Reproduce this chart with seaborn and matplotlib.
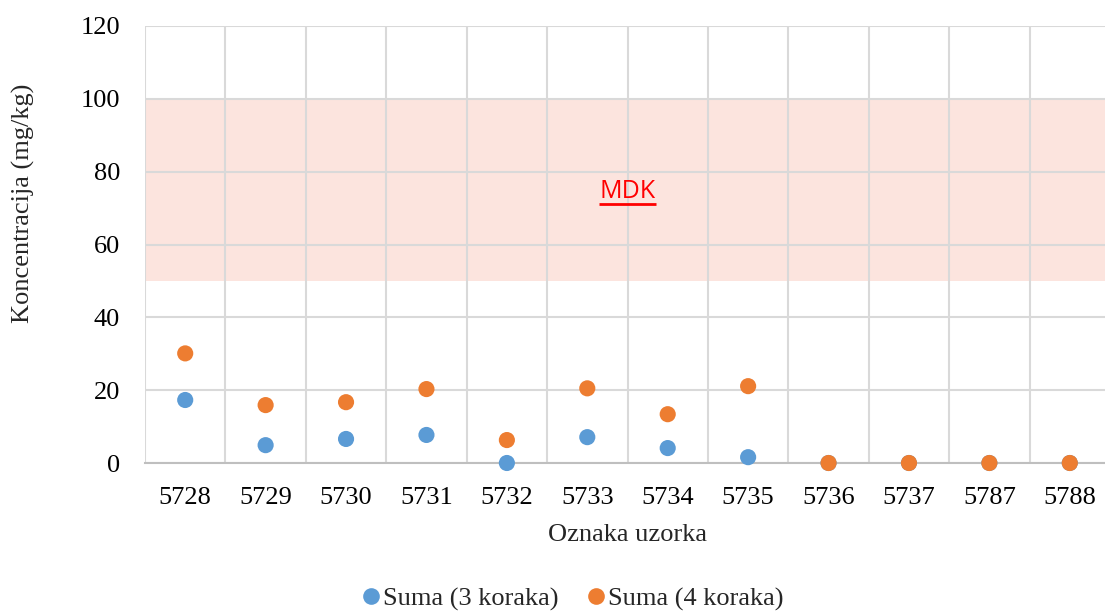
import matplotlib
matplotlib.use("Agg")
import matplotlib.pyplot as plt
from matplotlib.lines import Line2D
import seaborn as sns
import pandas as pd

# Sample labels and summed concentrations (mg/kg)
samples = ["5728", "5729", "5730", "5731", "5732", "5733",
           "5734", "5735", "5736", "5737", "5787", "5788"]
suma_3 = [17.3, 4.9, 6.6, 7.7, 0.0, 7.1, 4.1, 1.6, 0.0, 0.0, 0.0, 0.0]
suma_4 = [30.1, 15.9, 16.7, 20.3, 6.3, 20.5, 13.4, 21.1, 0.0, 0.0, 0.0, 0.0]
series_names = ["Suma (3 koraka)", "Suma (4 koraka)"]
colors = ["#5B9BD5", "#ED7D31"]

# MDK (maximum allowed concentration) band
mdk_low, mdk_high = 50, 100
mdk_label_y = 75

df = pd.DataFrame({
    "Oznaka": samples * 2,
    "Vrijednost": suma_3 + suma_4,
    "Serija": [series_names[0]] * len(samples) + [series_names[1]] * len(samples),
})

sns.set_theme(style="white")
plt.rcParams["font.family"] = ["Liberation Serif", "DejaVu Serif"]

FS = 19

fig = plt.figure(figsize=(11.05, 6.14), dpi=100)
ax = fig.add_axes([145 / 1105, 1 - 463 / 614, (1110 - 145) / 1105, (463 - 26) / 614])

ax.axhspan(mdk_low, mdk_high, color="#FCE4DE", zorder=0, lw=0)

sns.scatterplot(data=df, x="Oznaka", y="Vrijednost", hue="Serija",
                palette=dict(zip(series_names, colors)), s=135,
                edgecolor="none", linewidth=0, ax=ax, legend=False,
                zorder=3, clip_on=False)

n = len(samples)
ax.set_xlim(-0.5, n - 0.5)
ax.set_ylim(0, 120)
ax.set_yticks(range(0, 121, 20))
ax.set_xticks(range(n))
ax.set_xticklabels(samples)
ax.set_xticks([i - 0.5 for i in range(n + 1)], minor=True)

ax.grid(False)
ax.yaxis.grid(True, color="#D9D9D9", linewidth=1.5, zorder=1)
ax.xaxis.grid(True, which="minor", color="#D9D9D9", linewidth=1.5, zorder=1)
ax.set_axisbelow(True)
ax.tick_params(axis="both", which="both", length=0, labelsize=FS, colors="black")
ax.tick_params(axis="x", pad=17)
ax.tick_params(axis="y", pad=18)

for side in ["top", "right", "left"]:
    ax.spines[side].set_visible(False)
ax.spines["bottom"].set_color("#BFBFBF")
ax.spines["bottom"].set_linewidth(1.5)
ax.spines["bottom"].set_zorder(2)

ax.set_xlabel("Oznaka uzorka", fontsize=FS, labelpad=11)
ax.set_ylabel("Koncentracija (mg/kg)", fontsize=FS)
ax.yaxis.set_label_coords(-0.114, 0.595)

mdk_x = n / 2 - 0.5
ax.text(mdk_x, mdk_label_y - 0.5, "MDK", color="#FF0000", fontsize=18,
        family=["Open Sans", "DejaVu Sans"], ha="center", va="center", zorder=4)
# underline below the MDK label
ax.plot([mdk_x - 0.36, mdk_x + 0.36], [mdk_label_y - 3.8, mdk_label_y - 3.8],
        color="#FF0000", lw=2.0, zorder=4, solid_capstyle="butt")

handles = [Line2D([0], [0], marker="o", linestyle="none", markersize=12,
                  markerfacecolor=c, markeredgecolor="none") for c in colors]
fig.legend(handles, series_names, loc="center", bbox_to_anchor=(0.517, 1 - 599 / 614),
           ncol=2, frameon=False, fontsize=FS, handletextpad=0.0,
           columnspacing=1.0, handlelength=0.9, borderpad=0.0)

fig.savefig("out.png", dpi=100)
